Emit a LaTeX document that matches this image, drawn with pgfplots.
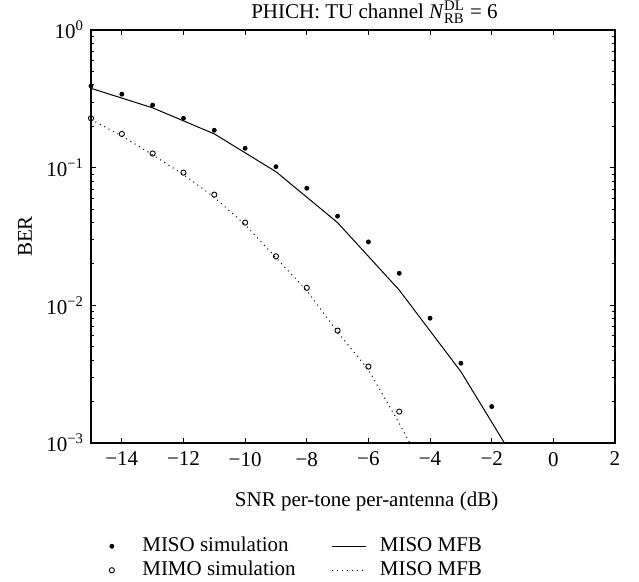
\documentclass[border=0pt]{standalone}
\usepackage{fontspec}
\setmainfont{Liberation Serif}
\usepackage{amsmath}
\usepackage{pgfplots}
\usepackage{pgfplotstable}
\pgfplotsset{compat=1.18}

\newcommand{\lblfont}{\fontsize{10.5}{12.6}\selectfont}

% BER of the PHICH, TU channel, N_RB^DL = 6
\pgfplotstableread{
snr ber
-15 0.393
-14 0.342
-13 0.285
-12 0.2285
-11 0.187
-10 0.1383
-9  0.1017
-8  0.0709
-7  0.0444
-6  0.0289
-5  0.0171
-4  0.00806
-3  0.0038
-2  0.00184
}\misosim

\pgfplotstableread{
snr ber
-15 0.2285
-14 0.1758
-13 0.1268
-12 0.092
-11 0.0637
-10 0.0399
-9  0.0227
-8  0.0134
-7  0.00655
-6  0.00359
-5  0.00169
}\mimosim

\pgfplotstableread{
snr ber
-15 0.377
-13 0.272
-11 0.176
-9  0.0935
-7  0.0399
-5  0.0129
-3  0.0033
-1  0.00061
}\misomfb

\pgfplotstableread{
snr ber
-15 0.224
-14 0.170
-13 0.124
-12 0.089
-11 0.061
-10 0.0385
-9  0.0222
-8  0.0128
-7  0.0064
-6  0.0034
-5  0.00139
-4  0.00053
}\mimomfb

% legend image for mark-only series, kept as wide as a line sample
\pgfplotsset{
  wide mark legend/.style={legend image code/.code={%
    \path (0cm,0cm) (0.6cm,0cm);
    \draw[mark repeat=2,mark phase=2,##1] plot coordinates {(0cm,0cm) (0.3cm,0cm) (0.6cm,0cm)};}},
}

\begin{document}
\begin{tikzpicture}
\path[use as bounding box] (-45.5pt,-69.5pt) rectangle (274pt,221.5pt);
\begin{axis}[
  at={(0,0)}, anchor=south west,
  width=262pt, height=206.5pt, scale only axis,
  ymode=log,
  xmin=-15, xmax=2, ymin=1e-3, ymax=1,
  xtick={-14,-12,...,2},
  xticklabels={−14,−12,−10,−8,−6,−4,−2,0,2},
  ytick={1e-3,1e-2,1e-1,1},
  yticklabels={10\textsuperscript{−3},10\textsuperscript{−2},10\textsuperscript{−1},10\textsuperscript{0}},
  minor ytick={2e-3,3e-3,4e-3,5e-3,6e-3,7e-3,8e-3,9e-3,
               2e-2,3e-2,4e-2,5e-2,6e-2,7e-2,8e-2,9e-2,
               2e-1,3e-1,4e-1,5e-1,6e-1,7e-1,8e-1,9e-1},
  major tick length=2.5pt, minor tick length=1.5pt,
  tick style={black, line width=0.4pt},
  axis line style={line width=0.6pt},
  tick label style={font=\lblfont},
  xticklabel style={yshift=-1pt},
  label style={font=\lblfont},
  every axis title shift=0pt,
  title style={font=\lblfont, at={(axis description cs:0.541,1)}, anchor=base, yshift=5.75pt},
  title={PHICH: TU channel \textit{N}$^{\text{DL}}_{\text{RB}}$ = 6},
  xlabel={SNR per-tone per-antenna (dB)},
  xlabel style={at={(axis description cs:0.526,-0.142)}, anchor=center},
  ylabel={BER},
  ylabel style={at={(axis description cs:-0.126,0.5)}, anchor=center},
  legend columns=2, transpose legend,
  legend cell align=left,
  legend style={draw=none, fill=none, font=\lblfont,
    at={(axis description cs:0.0057,-0.220)}, anchor=north west,
    inner sep=0pt, row sep=0pt,
    nodes={inner sep=1pt, text height=7.5pt, text depth=2.5pt},
    /tikz/every even column/.append style={column sep=17pt},
    /tikz/every odd column/.append style={column sep=5.5pt}},
]
\addlegendimage{only marks, mark=*, mark size=1pt, black, wide mark legend}
\addlegendentry{MISO simulation}
\addlegendimage{only marks, mark=o, mark size=1.3pt, black, mark options={fill=white, line width=0.45pt}, wide mark legend}
\addlegendentry{MIMO simulation}
\addlegendimage{black, line width=0.5pt}
\addlegendentry{MISO MFB}
\addlegendimage{black, line width=0.5pt, dash pattern=on 0.5pt off 2pt}
\addlegendentry{MISO MFB}

\addplot[black, line width=0.5pt, forget plot] table[x=snr, y=ber] {\misomfb};
\addplot[black, line width=0.5pt, dash pattern=on 0.5pt off 2pt, forget plot] table[x=snr, y=ber] {\mimomfb};
\addplot[only marks, mark=*, mark size=1pt, black, forget plot] table[x=snr, y=ber] {\misosim};
\addplot[only marks, mark=o, mark size=1.3pt, black, mark options={fill=white, line width=0.45pt}, forget plot] table[x=snr, y=ber] {\mimosim};
\end{axis}
\end{tikzpicture}
\end{document}
